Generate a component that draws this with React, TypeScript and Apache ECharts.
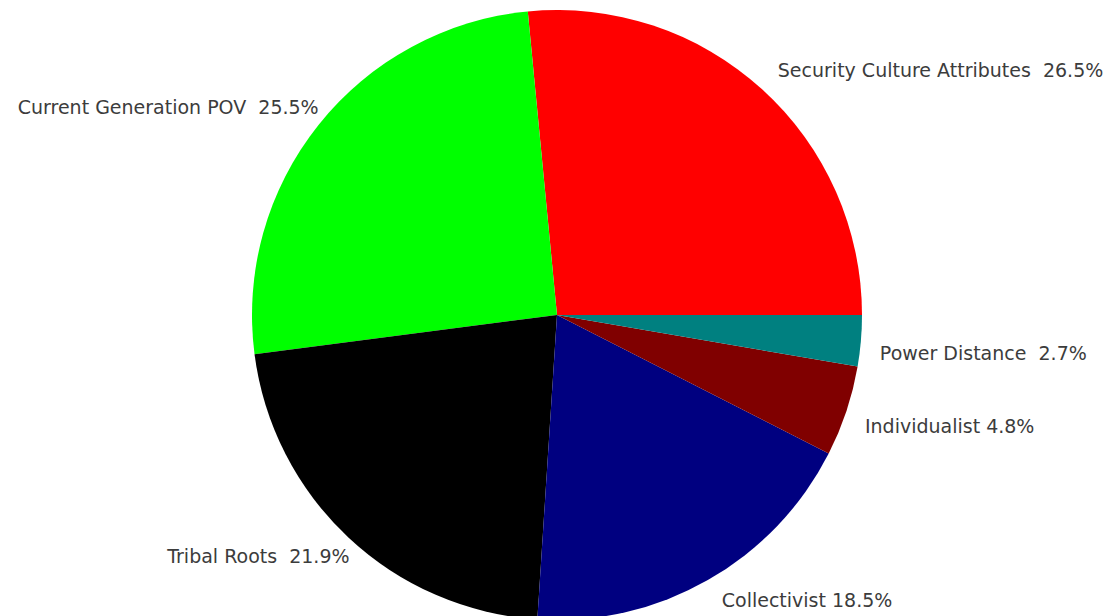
import React, { useEffect, useRef } from "react";
import * as echarts from "echarts";

const categories = [
  "Security Culture Attributes",
  "Current Generation POV",
  "Tribal Roots",
  "Collectivist",
  "Individualist",
  "Power Distance",
];
const values = [26.5, 25.5, 21.9, 18.5, 4.8, 2.7];
const separators = ["  ", "  ", "  ", " ", " ", "  "];
const colors = ["#ff0000", "#00ff00", "#000000", "#000080", "#800000", "#008080"];

export default function App() {
  const ref = useRef<HTMLDivElement>(null);
  useEffect(() => {
    if (!ref.current) return;
    const chart = echarts.init(ref.current, null, { renderer: "svg" });
    const cx = 557;
    const cy = 315;
    chart.setOption({
      animation: false,
      backgroundColor: "#ffffff",
      series: [
        {
          type: "pie",
          center: [cx, cy],
          radius: 305,
          startAngle: 0,
          clockwise: false,
          avoidLabelOverlap: false,
          data: categories.map((name, i) => ({
            name,
            value: values[i],
            itemStyle: { color: colors[i] },
          })),
          itemStyle: { borderWidth: 0 },
          emphasis: { disabled: true },
          label: {
            show: true,
            position: "outside",
            formatter: (p: any) =>
              `${p.name}${separators[p.dataIndex]}${p.value.toFixed(1)}%`,
            color: "#3c3c3c",
            fontSize: 19,
            fontFamily: "DejaVu Sans, sans-serif",
            distanceToLabelLine: 5,
          },
          labelLine: { show: false, length: 10, length2: 0 },
          labelLayout: (params: any) => {
            const r = params.labelRect;
            const upper = r.y + r.height / 2 < cy;
            const left = r.x + r.width / 2 < cx;
            return {
              dx: left ? 13 : 4,
              dy: upper ? -r.height / 2 - 2 : r.height / 2 + 2,
            };
          },
        },
      ],
    });
    return () => chart.dispose();
  }, []);
  return (
    <div
      ref={ref}
      style={{ position: "fixed", left: 0, top: 0, width: 1117, height: 616 }}
    />
  );
}
